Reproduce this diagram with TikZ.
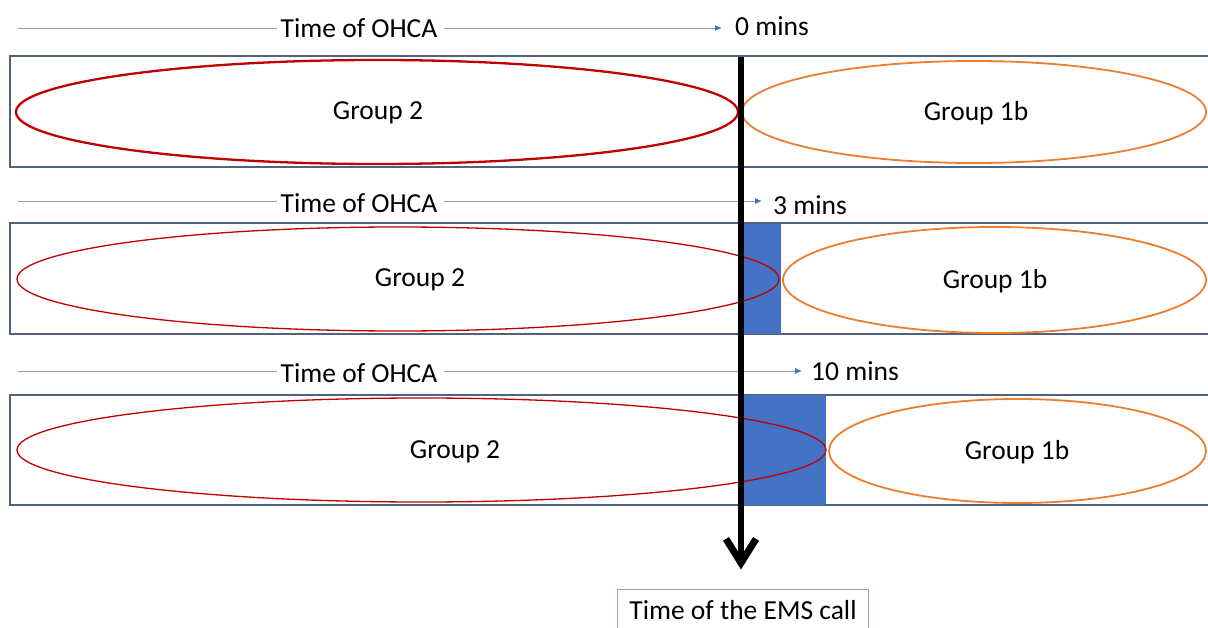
\documentclass[tikz,border=0pt]{standalone}
\usepackage{fontspec}
\setmainfont{Carlito}
\usetikzlibrary{arrows.meta,shapes.geometric}
\definecolor{frameC}{HTML}{50627F}
\definecolor{lineC}{HTML}{8FA1BC}
\definecolor{tipC}{HTML}{4472C4}
\definecolor{redC}{HTML}{C00000}
\definecolor{orC}{HTML}{ED7D31}
\definecolor{blueC}{HTML}{4472C4}
\definecolor{boxC}{HTML}{8EA6C6}
\begin{document}
\begin{tikzpicture}[x=1pt,y=-1pt,
  font=\fontsize{27.5}{33}\selectfont,
  band/.style={draw=frameC,line width=1.3pt},
  delay/.style={fill=blueC,draw=none},
  grpred/.style={ellipse,draw=redC,line width=1.3pt,inner sep=0pt},
  grporange/.style={ellipse,draw=orC,line width=1.8pt,inner sep=0pt},
  txt/.style={inner sep=0pt},
  lead/.style={draw=lineC,line width=0.9pt},
  timearrow/.style={draw=lineC,line width=0.9pt,-{Latex[length=7pt,width=6pt,color=tipC]}},
  callarrow/.style={line width=6.5pt,-{Straight Barb[length=24pt,width=30pt,line width=7pt]}},
  emsbox/.style={draw=boxC,line width=1pt,inner xsep=12pt,minimum height=42pt}]

\clip (0,0) rectangle (1208,628);

% ---- scenario: call at 0 mins ----
\draw[band] (10,56) rectangle (1220,167);
\node[grpred,line width=2.3pt,minimum width=722pt,minimum height=104pt] (r1) at (377,112) {};
\node[grporange,minimum width=464pt,minimum height=102pt] (o1) at (974,112) {};
\node[txt] (g2a) at (378,113) {Group 2};
\node[txt] (g1a) at (976,113) {Group 1b};
\node[txt] (t1) at (359,28) {Time of OHCA};
\node[txt,anchor=west] (m1) at (735,26) {0 mins};
\coordinate (s1) at (18,28);
\draw[lead] (s1) -- ([xshift=-3pt]t1.west |- s1);
\draw[timearrow,shorten <=6pt] (t1.east |- s1) -- ([xshift=-13pt]m1.west |- s1);

% ---- scenario: call at 3 mins ----
\draw[band] (10,223) rectangle (1220,334);
\fill[delay] (742,224) rectangle (781,334) coordinate (d2);
\node[grpred,minimum width=762pt,minimum height=104pt] (r2) at (398,279) {};
\node[grporange,minimum width=423pt,minimum height=106pt] (o2) at (994.5,280) {};
\node[txt] (g2b) at (420,280) {Group 2};
\node[txt] (g1b) at (995,281) {Group 1b};
\node[txt] (t2) at (359,203) {Time of OHCA};
\node[txt,anchor=west] (m2) at (773,205) {3 mins};
\coordinate (s2) at (18,201);
\draw[lead] (s2) -- ([xshift=-3pt]t2.west |- s2);
\draw[timearrow,shorten <=6pt] (t2.east |- s2) -- ([xshift=-11pt]m2.west |- s2);

% ---- scenario: call at 10 mins ----
\draw[band] (10,395) rectangle (1220,505);
\fill[delay] (742,395) rectangle (826,505) coordinate (d3);
\node[grpred,minimum width=809pt,minimum height=104pt] (r3) at (421.5,450) {};
\node[grporange,minimum width=377pt,minimum height=104pt] (o3) at (1017.5,451) {};
\node[txt] (g2c) at (455,452) {Group 2};
\node[txt] (g1c) at (1017,452) {Group 1b};
\node[txt] (t3) at (359,373) {Time of OHCA};
\node[txt,anchor=west] (m3) at (811,371) {10 mins};
\coordinate (s3) at (18,371);
\draw[lead] (s3) -- ([xshift=-3pt]t3.west |- s3);
\draw[timearrow,shorten <=6pt] (t3.east |- s3) -- ([xshift=-9pt]m3.west |- s3);

% ---- moment of the emergency call ----
\node[emsbox] (ems) at (743,610) {Time of the EMS call};
\coordinate (calltop) at (741,57);
\draw[callarrow,shorten >=19pt] (calltop) -- (calltop |- ems.north);

\end{tikzpicture}
\end{document}
